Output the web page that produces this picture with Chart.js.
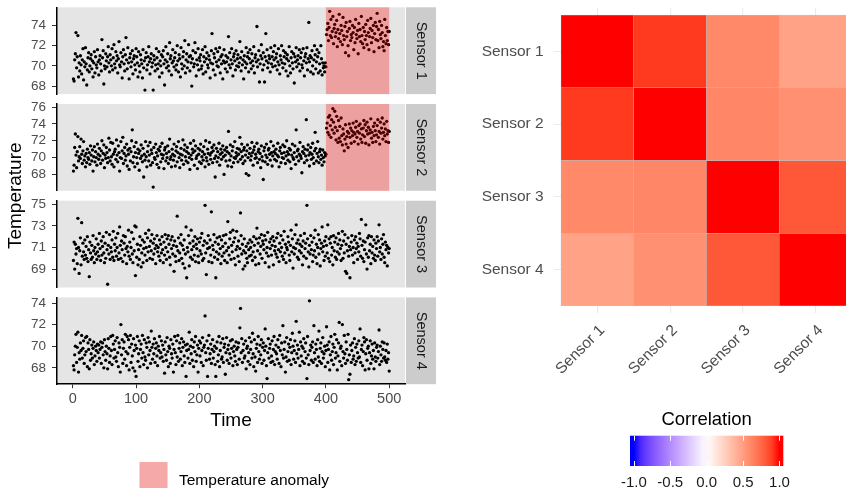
<!DOCTYPE html>
<html>
<head>
<meta charset="utf-8">
<script src="https://cdn.jsdelivr.net/npm/chart.js@4.4.1/dist/chart.umd.min.js"></script>
<style>
  html, body { margin: 0; padding: 0; background: #fff; overflow: hidden; }
  body { width: 846px; height: 488px; position: relative; }
  canvas { position: absolute; left: 0; top: 0; }
</style>
</head>
<body>
<canvas id="p1" width="846" height="488"></canvas>
<canvas id="p2" width="846" height="488"></canvas>
<canvas id="p3" width="846" height="488"></canvas>
<canvas id="p4" width="846" height="488"></canvas>
<canvas id="heat" width="900" height="488"></canvas>
<script>
const FONT = "'Liberation Sans', Arial, Helvetica, sans-serif";
Chart.defaults.font.family = FONT;
Chart.defaults.animation = false;
Chart.defaults.plugins.legend.display = false;
Chart.defaults.plugins.tooltip.enabled = false;

// ---- data ----
const sensorNames = ['Sensor 1', 'Sensor 2', 'Sensor 3', 'Sensor 4'];

const sensor1 = [
  68.7,68.5,70.6,71.2,73.3,69.8,70.9,73.0,68.9,70.3,69.5,71.0,70.1,69.2,70.6,71.7,68.6,70.4,69.9,71.8,
  70.2,68.1,69.6,70.8,71.3,69.4,70.0,70.7,71.1,69.7,70.5,68.9,70.3,71.4,69.3,70.9,70.1,69.8,71.6,70.4,
  69.1,70.6,71.0,70.2,69.5,72.6,70.8,71.5,68.2,70.0,69.7,71.2,70.5,69.9,70.9,71.9,70.3,69.4,71.1,70.6,
  70.0,71.7,69.6,70.8,72.1,70.2,69.8,71.4,70.5,71.0,69.3,70.7,72.4,70.1,69.9,71.3,70.4,68.8,70.9,71.6,
  70.2,69.5,71.1,72.8,70.6,69.7,71.8,70.3,68.7,70.8,71.2,69.9,70.4,71.5,69.2,70.7,71.0,70.1,69.6,71.7,
  70.9,70.3,68.9,71.4,70.0,69.4,71.1,70.6,70.2,68.8,71.6,69.8,70.5,67.6,70.8,71.3,69.6,70.1,70.9,71.9,
  70.4,69.2,70.7,71.2,69.9,70.3,67.6,71.0,70.6,69.5,70.1,71.7,70.8,69.7,70.2,71.4,68.9,70.5,70.0,71.1,
  69.3,70.9,71.5,70.2,68.1,70.6,71.9,69.8,70.4,71.2,70.0,69.5,72.3,70.7,71.0,69.1,70.3,71.6,70.5,69.9,
  70.8,71.3,69.6,70.1,72.0,70.5,69.4,71.1,70.7,68.9,71.8,70.2,69.7,70.9,71.4,70.0,72.5,69.3,70.6,71.2,
  69.8,70.4,72.1,70.9,69.5,71.0,70.3,68.0,70.7,71.5,69.9,70.2,72.3,71.3,69.0,70.6,70.1,71.7,69.6,70.8,
  70.5,71.1,69.7,70.0,71.6,69.2,70.9,70.4,71.9,69.4,70.7,71.3,70.1,69.8,71.0,70.6,68.8,70.3,71.5,73.2,
  70.2,69.6,71.2,70.8,69.1,71.7,70.4,70.0,71.4,69.9,70.6,71.8,69.3,70.9,70.2,71.1,68.7,70.5,71.6,70.3,
  69.7,71.0,70.4,69.4,70.8,72.9,70.1,71.3,69.8,70.6,71.7,70.2,69.0,70.9,71.2,70.5,69.6,71.5,70.0,70.7,
  71.1,69.9,70.3,72.4,70.8,69.5,71.4,70.1,70.6,68.7,71.0,70.4,69.8,71.8,70.2,70.9,71.3,69.4,70.7,71.6,
  70.3,69.7,71.2,70.5,70.0,71.9,69.3,70.8,71.1,70.4,73.9,69.9,70.6,71.5,68.4,70.2,71.0,72.1,70.7,69.6,
  71.3,70.1,68.4,70.9,73.2,70.5,71.6,69.8,70.3,71.0,70.7,69.4,71.8,70.2,70.9,69.9,71.4,70.6,72.0,70.0,
  70.8,71.2,69.6,70.4,71.7,70.1,69.2,71.0,70.6,72.0,70.3,69.8,71.5,70.9,70.2,71.3,69.5,70.7,71.1,69.0,
  70.5,71.9,70.0,69.3,70.8,71.4,70.3,69.7,71.2,68.3,70.9,70.4,71.8,69.9,70.6,71.0,70.2,71.6,69.5,70.8,
  71.3,70.1,69.8,71.7,70.5,69.0,70.9,71.2,70.3,71.8,69.6,70.7,74.3,70.4,71.0,69.4,70.8,71.5,70.0,69.2,
  70.6,72.0,71.1,69.7,70.4,71.6,70.9,69.3,71.3,70.2,69.5,72.0,70.7,69.1,70.3,69.8,70.0,69.4,70.3,69.9,
  73.1,73.6,74.2,72.5,73.8,75.4,73.0,74.6,72.8,73.4,74.9,72.2,73.7,74.1,72.9,73.3,74.5,71.9,73.6,72.7,
  75.1,73.2,72.4,74.0,73.5,72.1,74.8,73.0,72.6,73.9,71.3,74.3,72.9,73.4,72.0,71.0,73.7,74.4,72.5,73.1,
  72.8,74.0,73.3,71.6,73.8,72.3,74.6,73.1,72.7,73.5,71.2,74.2,72.9,73.6,72.4,74.9,73.0,72.2,73.8,71.8,
  73.4,72.6,74.1,73.0,72.1,74.5,73.3,71.6,72.9,73.7,74.7,72.3,73.5,72.8,74.0,71.4,73.2,74.3,72.6,73.9,
  75.2,72.5,73.6,71.8,74.4,73.1,72.7,74.0,73.3,71.9,72.4,71.5,74.6,73.0,72.2,73.8,72.5,73.4,72.1,73.4
];

const sensor2 = [
  68.4,69.1,71.2,72.8,70.3,68.8,70.7,72.5,69.6,70.1,71.3,69.9,72.2,70.4,69.3,70.8,71.9,69.7,70.2,68.9,
  70.5,69.4,71.0,70.0,69.8,70.6,69.2,71.4,70.3,69.6,70.9,68.4,70.1,71.3,69.5,70.7,70.0,69.1,71.6,70.4,
  69.8,71.1,70.2,69.3,70.8,72.0,69.7,70.5,71.5,68.8,70.3,69.9,71.2,70.6,69.4,70.0,72.3,70.9,69.6,71.8,
  70.1,69.2,71.7,70.4,68.9,70.7,71.0,69.8,72.1,70.3,69.5,71.4,70.6,68.4,70.0,71.9,69.9,70.8,72.4,69.3,
  70.5,71.2,69.7,70.2,71.6,69.0,70.9,70.4,68.6,71.1,69.6,70.7,72.0,73.3,69.4,70.1,71.3,68.9,70.6,71.8,
  70.0,69.3,71.0,70.5,68.5,70.8,69.9,71.5,70.2,69.5,71.1,67.7,70.4,69.7,71.9,70.1,68.9,70.7,71.4,69.6,
  70.3,71.8,69.1,70.9,70.5,69.4,66.5,71.2,70.0,69.8,71.6,70.6,69.2,70.2,71.0,68.8,70.8,71.3,69.5,70.4,
  71.7,69.9,70.3,68.7,70.9,71.2,69.6,70.5,70.0,71.4,69.3,70.7,72.2,69.8,70.1,68.9,71.0,70.4,69.7,71.6,
  70.2,69.0,70.8,71.3,69.5,70.6,71.9,70.0,68.8,70.4,71.1,69.7,70.3,72.1,69.2,70.9,71.5,70.1,69.6,70.7,
  71.2,69.4,70.5,70.0,68.6,71.7,70.3,69.8,71.0,70.6,72.0,69.1,70.8,71.4,69.9,70.2,68.7,71.1,70.4,69.5,
  70.9,71.6,69.3,70.1,70.7,69.7,71.3,70.4,68.9,72.0,70.0,69.6,71.0,70.5,69.2,71.8,70.3,69.8,70.6,71.2,
  69.4,70.8,71.5,69.9,67.7,70.2,71.1,69.5,70.7,70.0,71.7,69.1,70.4,71.0,69.8,70.6,71.4,70.1,68.0,70.9,
  70.3,69.6,71.2,70.7,69.0,73.1,70.5,69.7,71.5,70.2,68.9,70.8,71.3,69.4,70.0,71.9,69.9,70.6,70.2,71.1,
  69.5,70.4,71.0,72.4,69.8,70.7,71.6,70.1,69.3,70.9,71.2,69.6,70.3,68.1,70.8,71.5,70.0,67.9,70.5,71.1,
  69.7,70.2,71.8,70.6,69.1,70.9,71.3,69.9,70.4,70.0,71.7,69.4,70.7,71.0,69.8,70.5,68.8,71.4,70.1,69.6,
  67.4,70.8,71.2,69.5,70.3,71.6,70.0,69.2,70.9,71.1,70.4,69.7,71.9,70.6,69.0,70.2,71.4,70.7,69.8,70.5,
  71.0,69.6,70.3,71.7,70.1,68.9,70.8,71.2,69.4,70.5,70.0,71.5,69.9,70.6,71.3,69.3,70.2,72.0,70.7,69.7,
  70.4,71.1,69.5,70.9,68.7,70.3,71.6,70.0,69.8,70.6,71.4,69.2,73.3,70.1,70.8,71.0,69.6,70.4,71.8,70.2,
  69.9,68.2,70.7,71.3,70.5,69.4,71.0,70.2,74.5,69.7,70.9,71.5,70.3,69.0,70.6,71.2,69.8,70.4,71.7,70.0,
  69.3,70.8,73.0,71.1,69.6,70.5,71.9,70.1,69.4,70.7,71.0,69.8,70.3,69.1,70.9,70.0,69.5,70.6,70.2,70.4,
  73.5,74.1,73.0,74.8,72.7,75.0,73.8,72.4,74.5,73.3,75.8,74.2,72.9,75.5,73.6,72.1,74.9,73.2,71.8,74.4,
  72.3,73.7,71.9,74.7,72.6,71.5,73.4,72.8,70.8,72.2,73.9,71.6,72.5,73.1,71.2,72.9,74.0,72.4,73.5,71.7,
  73.2,72.6,74.1,73.0,71.9,72.8,73.6,74.3,72.4,73.1,71.6,73.8,72.9,74.0,72.2,73.4,71.8,72.7,73.5,74.4,
  72.5,73.9,71.7,73.2,74.2,72.8,73.6,71.5,72.9,73.3,74.6,72.3,73.0,71.8,73.7,72.6,74.1,73.2,71.9,72.7,
  73.8,74.5,72.4,73.1,71.6,74.2,72.9,73.5,74.7,72.2,73.0,74.0,72.6,73.4,71.9,74.3,72.8,73.2,71.8,73.1
];

const sensor3 = [
  69.8,71.5,69.0,71.3,70.4,70.9,69.5,73.7,71.0,68.6,70.7,71.9,69.4,73.3,70.2,71.4,70.6,69.9,71.7,70.3,
  71.1,70.0,72.0,69.7,70.8,68.3,71.5,70.5,69.9,71.2,70.1,72.1,70.7,69.6,71.0,70.4,71.8,69.9,70.6,71.3,
  70.2,72.3,70.9,69.8,71.6,70.3,71.1,72.0,70.5,69.6,71.4,70.0,72.4,70.8,67.6,71.2,70.4,72.2,69.9,71.0,
  70.6,71.7,70.1,72.5,69.8,71.3,70.7,71.9,70.2,71.0,72.3,69.9,70.5,72.9,71.2,70.0,71.6,70.8,69.7,72.1,
  71.4,70.3,72.0,70.9,69.5,71.1,70.6,72.6,70.2,71.5,69.9,71.0,72.4,70.4,69.6,71.8,70.7,73.0,68.4,72.9,
  70.1,71.3,69.4,70.8,69.9,72.0,71.2,69.2,70.5,71.7,69.6,70.9,71.5,70.3,72.3,71.0,69.8,71.9,70.6,72.6,
  71.1,70.0,71.6,70.7,72.2,69.9,71.4,70.4,71.8,70.9,69.5,71.2,72.1,70.6,71.0,70.2,71.7,69.8,71.3,70.5,
  72.0,70.8,69.6,71.5,70.3,72.2,71.0,69.9,71.8,70.6,72.1,71.3,70.1,69.4,71.7,70.9,72.0,70.4,71.2,68.8,
  71.6,70.2,69.7,71.1,73.9,70.7,71.9,69.8,70.5,71.4,72.2,70.0,71.2,69.5,70.8,71.7,69.1,70.4,72.9,68.2,
  71.0,70.6,72.1,69.3,71.4,70.1,72.6,70.8,69.9,71.6,71.1,70.3,72.0,69.7,71.3,70.9,71.8,70.2,69.6,71.5,
  70.7,71.9,70.4,72.3,69.8,71.2,70.0,71.6,74.9,70.5,68.5,71.4,70.9,72.1,69.7,71.0,71.7,70.3,74.3,69.6,
  71.2,70.8,72.2,70.1,71.5,68.2,70.6,71.9,69.9,71.3,70.4,72.0,70.9,69.5,71.7,70.2,71.1,72.1,70.5,69.8,
  71.4,72.2,70.7,69.6,73.4,71.0,70.3,71.8,72.4,69.9,71.2,70.6,72.6,71.5,70.0,71.9,69.4,70.8,72.5,71.1,
  70.2,71.6,69.7,70.9,74.2,72.1,70.4,71.3,69.0,70.7,71.8,69.3,70.5,71.1,70.0,69.6,71.4,70.8,70.2,71.7,
  71.0,70.3,71.5,69.8,70.6,72.0,71.2,70.1,69.4,71.8,72.8,70.7,71.4,69.5,71.9,70.4,71.1,72.2,70.0,71.6,
  71.3,70.8,72.1,69.6,71.7,70.5,71.0,72.4,70.2,69.2,71.5,70.9,71.8,70.3,71.2,72.0,69.4,71.6,70.7,71.1,
  70.4,71.9,70.1,72.3,70.8,69.7,71.4,70.6,72.1,71.0,70.2,71.7,69.9,72.5,70.5,71.3,69.6,71.0,70.8,72.0,
  71.5,70.3,69.8,71.2,72.6,70.6,71.8,69.1,71.0,70.4,72.2,70.9,73.1,71.4,70.1,71.7,69.9,70.7,71.3,72.1,
  70.5,71.1,69.4,71.6,70.2,72.3,70.9,71.4,70.0,74.9,71.8,70.6,69.2,71.2,70.4,72.1,70.8,71.5,69.7,70.3,
  71.9,70.7,72.6,70.1,71.3,69.5,71.0,72.2,70.4,71.7,69.3,70.9,71.4,72.9,70.6,71.1,69.8,71.6,70.2,72.0,
  71.2,70.5,73.1,70.0,71.8,69.7,71.4,72.0,70.3,71.0,69.4,72.1,70.7,71.5,70.1,71.9,69.9,70.6,71.3,72.3,
  70.4,71.7,70.9,69.8,71.2,72.5,70.0,71.6,70.5,72.2,68.8,71.3,68.6,70.7,71.9,70.2,71.1,68.2,70.8,71.5,
  72.1,70.3,71.0,69.6,71.7,70.5,72.0,70.9,71.4,69.9,71.1,70.6,72.3,71.8,70.2,73.6,71.2,70.0,71.6,69.7,
  70.8,71.5,73.1,70.4,69.0,71.9,70.1,72.1,70.7,71.3,69.5,72.0,70.5,71.1,70.0,71.7,70.3,69.8,71.4,70.9,
  72.0,70.2,71.6,73.1,70.6,71.0,69.9,71.8,70.4,71.3,72.2,70.1,69.6,71.5,70.8,71.2,69.3,71.0,70.5,70.9
];

const sensor4 = [
  68.2,67.8,69.2,70.0,71.1,68.5,69.9,71.3,67.6,69.4,68.8,70.3,69.6,71.0,68.9,69.8,70.5,68.4,69.2,70.8,
  69.5,70.9,68.1,70.3,69.7,67.9,70.6,68.7,69.3,70.1,68.9,69.8,70.4,68.3,69.1,70.0,69.6,68.6,70.2,69.4,
  70.1,68.9,69.7,70.4,68.4,69.9,70.3,69.2,68.0,70.6,69.5,68.7,70.0,69.3,67.9,70.7,69.8,68.5,69.1,70.9,
  69.6,68.3,71.0,70.2,68.9,69.7,70.5,69.0,68.6,70.8,69.4,68.1,70.3,69.9,67.6,72.0,69.2,70.6,68.4,69.8,
  70.4,68.8,71.1,69.5,68.2,70.9,69.3,70.6,67.8,69.9,71.0,68.5,70.2,69.1,68.0,70.7,69.6,67.7,70.1,67.2,
  69.8,70.9,68.6,69.3,70.5,68.1,69.7,70.2,68.9,71.0,69.4,68.3,70.6,69.0,68.7,70.3,69.9,68.0,70.8,69.2,
  70.4,69.6,68.4,71.4,69.9,68.8,70.2,69.3,70.7,68.5,69.8,70.3,69.1,68.2,70.0,69.6,70.9,68.9,69.4,70.5,
  69.0,70.1,68.6,69.7,67.5,70.4,69.2,68.7,70.8,69.5,68.1,70.0,69.8,68.4,70.6,69.3,68.9,70.2,67.6,69.7,
  70.9,69.4,68.3,70.5,69.0,71.0,68.6,69.8,70.3,68.8,69.5,70.7,68.2,69.9,70.4,69.1,68.5,70.1,67.2,69.6,
  70.2,68.9,69.7,71.3,68.4,70.0,69.3,70.6,68.7,69.9,68.1,70.4,69.5,70.9,68.6,69.2,70.1,67.6,69.8,70.5,
  69.1,70.3,68.5,69.6,70.8,68.2,69.9,70.1,72.8,69.4,68.7,70.5,67.2,69.8,71.0,68.8,69.3,70.2,68.4,69.7,
  70.6,68.9,69.5,70.0,68.3,67.2,69.8,70.4,68.6,69.2,70.9,68.1,69.6,70.3,68.8,69.0,70.7,68.5,69.9,70.2,
  67.4,69.4,70.8,68.7,69.7,70.1,68.4,69.3,70.5,68.9,69.8,70.6,68.2,69.5,70.0,69.1,68.6,70.4,69.7,68.3,
  69.9,70.3,68.8,71.7,73.5,69.4,70.7,68.5,69.6,70.2,68.9,69.1,70.5,67.9,69.8,70.0,68.6,69.4,70.8,68.3,
  69.7,70.4,68.9,71.2,69.3,68.1,70.6,69.0,67.7,69.8,70.2,68.5,70.9,69.5,68.8,70.1,69.2,70.6,68.4,69.9,
  70.3,68.7,69.6,71.6,70.0,68.2,67.0,69.4,70.7,68.9,69.8,70.2,68.5,69.1,70.5,68.6,69.7,70.9,68.3,69.5,
  70.1,69.3,68.8,70.6,69.9,68.4,71.0,69.6,68.1,70.3,69.2,71.9,68.9,69.7,70.4,67.6,69.0,70.8,68.6,69.5,
  70.2,68.7,69.9,70.6,68.3,69.4,71.2,70.0,68.8,69.6,70.5,68.5,72.3,69.3,70.1,68.9,69.7,71.3,68.2,70.4,
  69.1,70.0,68.6,69.8,70.7,68.4,69.5,70.3,68.9,67.0,70.9,69.2,68.3,74.2,69.6,70.1,68.7,69.9,70.4,68.5,
  71.9,69.4,68.8,70.2,69.7,68.2,70.6,69.0,71.4,68.6,69.8,70.3,68.4,69.5,70.8,68.9,69.3,70.0,68.1,69.6,
  71.8,70.1,68.5,69.7,70.4,67.8,69.2,70.9,68.7,69.5,70.2,68.3,69.9,71.1,68.9,69.4,70.6,67.8,69.1,70.3,
  72.2,68.6,69.8,70.0,68.2,72.0,69.5,68.9,71.0,69.3,68.4,70.4,69.7,68.7,71.1,66.9,69.2,67.4,70.1,68.5,
  69.6,70.3,68.8,69.1,70.7,68.3,69.9,68.6,70.2,69.4,68.9,70.5,69.0,71.6,68.5,69.7,70.1,68.2,69.5,70.8,
  70.4,67.8,69.3,70.6,68.7,69.8,70.0,67.9,69.4,70.5,68.4,69.1,70.2,68.8,69.6,67.9,70.3,69.0,68.6,69.9,
  70.1,68.9,69.5,71.5,68.3,70.0,69.2,68.6,70.4,69.7,68.9,70.3,69.0,68.7,69.6,68.5,70.2,68.8,69.4,67.7
];

const sensorValues = [sensor1, sensor2, sensor3, sensor4];

// y-axis ticks and limits for each facet (free scales)
const tempTicks = [[68, 70, 72, 74], [68, 70, 72, 74, 76], [69, 71, 73, 75], [68, 70, 72, 74]];
const tempLimits = [[67.2, 75.8], [66.06, 76.36], [67.3, 75.33], [66.48, 74.52]];
const timeTicks = [0, 100, 200, 300, 400, 500];
const timeLimits = [-25, 525];

// anomaly window, shaded on the first two sensors
const anomalyWindow = [400, 500];
const anomalySensors = ['Sensor 1', 'Sensor 2'];

// correlation matrix, one row per sensor
const corr1 = [1.00, 0.91, 0.60, 0.48];
const corr2 = [0.91, 1.00, 0.61, 0.57];
const corr3 = [0.60, 0.61, 1.00, 0.81];
const corr4 = [0.48, 0.57, 0.81, 1.00];
const corrRows = [corr1, corr2, corr3, corr4];
const corrLimits = [-1, 1];
const corrTicks = [-1, -0.5, 0, 0.5, 1];

// ---- colour scale: blue - white - red, interpolated in CIELAB ----
function hexToRgb(h) {
  return [1, 3, 5].map(i => parseInt(h.slice(i, i + 2), 16) / 255);
}
function rgbToLab(c) {
  const lin = c.map(v => v <= 0.04045 ? v / 12.92 : Math.pow((v + 0.055) / 1.055, 2.4));
  const X = (0.4124564 * lin[0] + 0.3575761 * lin[1] + 0.1804375 * lin[2]) / 0.95047;
  const Y = 0.2126729 * lin[0] + 0.7151522 * lin[1] + 0.0721750 * lin[2];
  const Z = (0.0193339 * lin[0] + 0.1191920 * lin[1] + 0.9503041 * lin[2]) / 1.08883;
  const f = t => t > 216 / 24389 ? Math.cbrt(t) : t * 841 / 108 + 4 / 29;
  return [116 * f(Y) - 16, 500 * (f(X) - f(Y)), 200 * (f(Y) - f(Z))];
}
function labToCss(lab) {
  const fy = (lab[0] + 16) / 116, fx = fy + lab[1] / 500, fz = fy - lab[2] / 200;
  const inv = t => t > 6 / 29 ? t * t * t : 108 / 841 * (t - 4 / 29);
  const X = 0.95047 * inv(fx), Y = inv(fy), Z = 1.08883 * inv(fz);
  const lin = [
    3.2404542 * X - 1.5371385 * Y - 0.4985314 * Z,
    -0.9692660 * X + 1.8760108 * Y + 0.0415560 * Z,
    0.0556434 * X - 0.2040259 * Y + 1.0572252 * Z
  ];
  const out = lin.map(v => {
    v = Math.min(1, Math.max(0, v));
    v = v <= 0.0031308 ? 12.92 * v : 1.055 * Math.pow(v, 1 / 2.4) - 0.055;
    return Math.round(v * 255);
  });
  return `rgb(${out[0]},${out[1]},${out[2]})`;
}
const labLow = rgbToLab(hexToRgb('#0000FF'));
const labMid = rgbToLab(hexToRgb('#FFFFFF'));
const labHigh = rgbToLab(hexToRgb('#FF0000'));
function corrColor(v) {
  const end = v < 0 ? labLow : labHigh;
  const t = Math.min(1, Math.abs(v) / corrLimits[1]);
  return labToCss(labMid.map((m, i) => m + (end[i] - m) * t));
}

// ---- facet panels ----
const PANEL_TOP = [7.3, 104.0, 200.7, 297.4];
const PANEL_H = 86.8;
const AXIS_W = 57;
const PANEL_RIGHT = 405;
const STRIP_W = 30;
const XAXIS_H = 50;

const facetPlugin = {
  id: 'facet',
  beforeDraw(chart) {
    const {ctx, chartArea: a} = chart;
    ctx.save();
    ctx.fillStyle = '#E5E5E5';
    ctx.fillRect(a.left, a.top, a.right - a.left, a.bottom - a.top);
    ctx.restore();
  },
  afterDatasetsDraw(chart, args, opts) {
    if (!opts.anomaly) return;
    const {ctx, chartArea: a, scales: {x}} = chart;
    const x0 = x.getPixelForValue(anomalyWindow[0]);
    const x1 = x.getPixelForValue(anomalyWindow[1]);
    ctx.save();
    ctx.fillStyle = 'rgba(255,0,0,0.3)';
    ctx.fillRect(x0, a.top, x1 - x0, a.bottom - a.top);
    ctx.restore();
  },
  afterDraw(chart, args, opts) {
    const {ctx, chartArea: a} = chart;
    const sx = a.right + 1;
    ctx.save();
    ctx.fillStyle = '#CCCCCC';
    ctx.fillRect(sx, a.top, STRIP_W, a.bottom - a.top);
    ctx.translate(sx + STRIP_W / 2, (a.top + a.bottom) / 2);
    ctx.rotate(Math.PI / 2);
    ctx.font = `14.5px ${FONT}`;
    ctx.fillStyle = '#1A1A1A';
    ctx.textAlign = 'center';
    ctx.textBaseline = 'middle';
    ctx.fillText(opts.label, 0, 0);
    ctx.restore();
  }
};

// shared y title and the fill legend, drawn with the bottom facet
const facetLabels = {
  id: 'facetLabels',
  afterDraw(chart) {
    const ctx = chart.ctx;
    ctx.save();
    ctx.translate(16, (PANEL_TOP[0] + PANEL_TOP[3] + PANEL_H) / 2);
    ctx.rotate(-Math.PI / 2);
    ctx.font = `19px ${FONT}`;
    ctx.fillStyle = '#000';
    ctx.textAlign = 'center';
    ctx.textBaseline = 'middle';
    ctx.fillText('Temperature', 0, 0);
    ctx.restore();

    ctx.save();
    ctx.fillStyle = '#F2F2F2';
    ctx.fillRect(139.5, 462, 28, 28);
    ctx.fillStyle = 'rgba(255,0,0,0.3)';
    ctx.fillRect(139.5, 462, 28, 28);
    ctx.font = `15.5px ${FONT}`;
    ctx.fillStyle = '#000';
    ctx.textAlign = 'left';
    ctx.textBaseline = 'alphabetic';
    ctx.fillText('Temperature anomaly', 179, 484.5);
    ctx.restore();
  }
};

sensorNames.forEach((name, k) => {
  const bottom = k === sensorNames.length - 1;
  const top = PANEL_TOP[k];
  const padBottom = 488 - (top + PANEL_H) - (bottom ? XAXIS_H : 0);
  new Chart(document.getElementById('p' + (k + 1)), {
    type: 'scatter',
    data: {
      datasets: [{
        data: sensorValues[k].map((v, i) => ({x: i + 1, y: v})),
        backgroundColor: '#000',
        borderColor: '#000',
        borderWidth: 0,
        pointRadius: 1.65
      }]
    },
    options: {
      responsive: false,
      devicePixelRatio: 1,
      layout: {padding: {left: 0, top: top, right: 846 - PANEL_RIGHT, bottom: padBottom}},
      scales: {
        x: {
          type: 'linear',
          display: bottom,
          min: timeLimits[0],
          max: timeLimits[1],
          afterBuildTicks: s => { s.ticks = timeTicks.map(v => ({value: v})); },
          afterFit: s => {
            if (!bottom) return;
            s.height = XAXIS_H; s.paddingLeft = 0; s.paddingRight = 0;
          },
          grid: {drawOnChartArea: false, drawTicks: true, tickLength: 4, tickColor: '#333333'},
          border: {display: true, color: '#000', width: 1.5},
          ticks: {color: '#4D4D4D', font: {size: 14.5}, padding: 2, maxRotation: 0, autoSkip: false},
          title: {display: true, text: 'Time', color: '#000', font: {size: 19}, padding: {top: 0, bottom: 2}}
        },
        y: {
          type: 'linear',
          min: tempLimits[k][0],
          max: tempLimits[k][1],
          afterBuildTicks: s => { s.ticks = tempTicks[k].map(v => ({value: v})); },
          afterFit: s => { s.width = AXIS_W; s.paddingTop = 0; s.paddingBottom = 0; },
          grid: {drawOnChartArea: false, drawTicks: true, tickLength: 5, tickColor: '#333333'},
          border: {display: true, color: '#000', width: 1.5},
          ticks: {color: '#4D4D4D', font: {size: 13.5}, padding: 6}
        }
      },
      plugins: {
        facet: {label: name, anomaly: anomalySensors.includes(name)}
      }
    },
    plugins: bottom ? [facetPlugin, facetLabels] : [facetPlugin]
  });
});

// ---- correlation heatmap ----
const HEAT_LEFT = 553.7, HEAT_TOP = 7.7, HEAT_SIZE = 305.6;
const HEAT_AXIS = 100;

const colorbarPlugin = {
  id: 'colorbar',
  afterDraw(chart) {
    const ctx = chart.ctx;
    const x0 = 630, x1 = 783.3, y0 = 435.7, y1 = 466;
    const nbin = 20;
    const span = corrLimits[1] - corrLimits[0];
    const posOf = v => x0 + (0.5 + (v - corrLimits[0]) / span * (nbin - 1)) / nbin * (x1 - x0);
    ctx.save();
    ctx.font = `18.5px ${FONT}`;
    ctx.fillStyle = '#000';
    ctx.textAlign = 'center';
    ctx.textBaseline = 'alphabetic';
    ctx.fillText('Correlation', (x0 + x1) / 2, 424.5);

    const grad = ctx.createLinearGradient(x0, 0, x1, 0);
    for (let i = 0; i < nbin; i++) {
      grad.addColorStop((i + 0.5) / nbin, corrColor(corrLimits[0] + span * i / (nbin - 1)));
    }
    grad.addColorStop(0, corrColor(corrLimits[0]));
    grad.addColorStop(1, corrColor(corrLimits[1]));
    ctx.fillStyle = grad;
    ctx.fillRect(x0, y0, x1 - x0, y1 - y0);

    ctx.strokeStyle = '#FFFFFF';
    ctx.lineWidth = 1;
    ctx.font = `15px ${FONT}`;
    ctx.fillStyle = '#1A1A1A';
    corrTicks.forEach(v => {
      const px = Math.round(posOf(v)) + 0.5;
      ctx.beginPath();
      ctx.moveTo(px, y0); ctx.lineTo(px, y0 + 5);
      ctx.moveTo(px, y1 - 5); ctx.lineTo(px, y1);
      ctx.stroke();
      ctx.fillText(v.toFixed(1), posOf(v), 486.5);
    });
    ctx.restore();
  }
};

new Chart(document.getElementById('heat'), {
  type: 'bar',
  data: {
    datasets: sensorNames.map((rowName, r) => ({
      label: rowName,
      data: sensorNames.map((colName, c) => ({x: c + 0.5, y: 1})),
      backgroundColor: corrRows[r].map(corrColor),
      borderColor: 'rgba(175,175,175,0.8)',
      borderWidth: 0.5,
      borderSkipped: false,
      barPercentage: 1,
      categoryPercentage: 1
    }))
  },
  options: {
    responsive: false,
    devicePixelRatio: 1,
    layout: {
      padding: {
        left: HEAT_LEFT - HEAT_AXIS,
        top: HEAT_TOP,
        right: 900 - (HEAT_LEFT + HEAT_SIZE),
        bottom: 488 - (HEAT_TOP + HEAT_SIZE) - HEAT_AXIS
      }
    },
    scales: {
      x: {
        type: 'linear',
        stacked: true,
        offset: false,
        min: -0.1,
        max: sensorNames.length + 0.1,
        afterBuildTicks: s => { s.ticks = sensorNames.map((n, i) => ({value: i + 0.5})); },
        afterFit: s => { s.height = HEAT_AXIS; s.paddingLeft = 0; s.paddingRight = 0; },
        grid: {color: '#EBEBEB', lineWidth: 1.1, drawTicks: false, offset: false},
        border: {display: false},
        ticks: {
          callback: (v, i) => sensorNames[i],
          color: '#4D4D4D', font: {size: 15.5}, padding: 8, labelOffset: 5,
          minRotation: 45, maxRotation: 45, autoSkip: false
        }
      },
      y: {
        type: 'linear',
        stacked: true,
        reverse: true,
        min: -0.1,
        max: sensorNames.length + 0.1,
        afterBuildTicks: s => { s.ticks = sensorNames.map((n, i) => ({value: i + 0.5})); },
        afterFit: s => { s.width = HEAT_AXIS; s.paddingTop = 0; s.paddingBottom = 0; },
        grid: {color: '#EBEBEB', lineWidth: 1.1, drawTicks: false},
        border: {display: false},
        ticks: {callback: (v, i) => sensorNames[i], color: '#4D4D4D', font: {size: 15.5}, padding: 10}
      }
    }
  },
  plugins: [colorbarPlugin]
});
</script>
</body>
</html>
